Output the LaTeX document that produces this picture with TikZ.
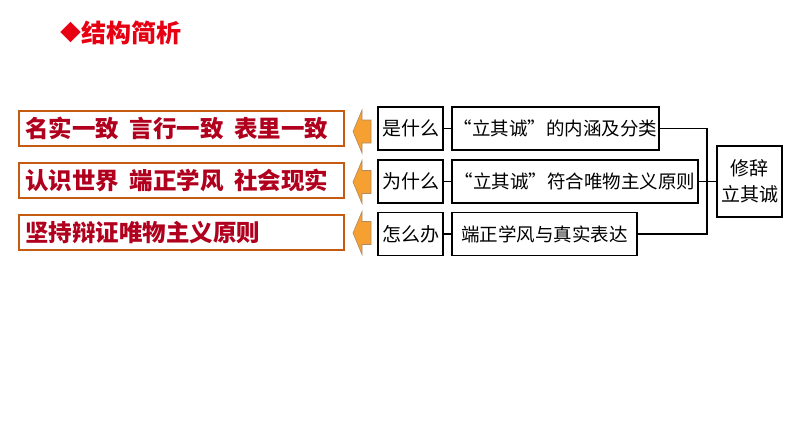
\documentclass[tikz,border=0pt]{standalone}
\usepackage{fontspec}
\setmainfont{Noto Sans CJK SC}
\newfontfamily\cjk{Noto Sans CJK SC}
\definecolor{titlered}{HTML}{E60012}
\definecolor{darkred}{HTML}{B0001E}
\definecolor{boxbrown}{HTML}{C55A11}
\definecolor{arrowfill}{HTML}{F5A031}
\definecolor{arrowline}{HTML}{B08A60}
\tikzset{
  leftbox/.style={draw=boxbrown, line width=2pt, fill=white, inner xsep=6pt, inner ysep=0pt,
    text width=313pt, minimum height=35pt, align=left, text=darkred,
    font=\cjk\bfseries\fontsize{23.5}{26}\selectfont},
  qbox/.style={draw=black, line width=1.6pt, fill=white, inner sep=0pt,
    minimum width=65pt, minimum height=43pt, font=\cjk\fontsize{19}{26}\selectfont},
  longbox/.style={draw=black, line width=1.6pt, fill=white, inner sep=0pt,
    minimum height=43pt, font=\cjk\fontsize{18.5}{22}\selectfont},
  link/.style={draw=black, line width=1.6pt},
  blockarrow/.style={fill=arrowfill, draw=arrowline, line width=0.6pt, line join=miter}
}
\newcommand{\leftarrowat}[1]{%
  \draw[blockarrow] (#1) ++(-9,0) -- ++(9,-21.5) -- ++(0,10) -- ++(9,0) -- ++(0,23) -- ++(-9,0) -- ++(0,10) -- cycle;}
\begin{document}
\begin{tikzpicture}[x=1pt,y=-1pt]
\useasboundingbox (0,0) rectangle (794,447);
% title
\node[text=titlered, font=\cjk\fontsize{21}{22}\selectfont, inner sep=0pt] (dia) at (71,33) {◆};
\node[text=titlered, font=\cjk\bfseries\fontsize{25}{26}\selectfont, anchor=west, inner sep=0pt] (title) at (81,33) {结构简析};
% left boxes
\node[leftbox] (l1) at (181.5,128.5) {名实一致\hspace{0.45em}言行一致\hspace{0.45em}表里一致};
\node[leftbox] (l2) at (181.5,180.5) {认识世界\hspace{0.45em}端正学风\hspace{0.45em}社会现实};
\node[leftbox] (l3) at (181.5,232.5) {坚持辩证唯物主义原则};
% arrows
\coordinate (ar1) at (362,131.5);
\coordinate (ar2) at (362,182);
\coordinate (ar3) at (362,233);
\leftarrowat{ar1}
\leftarrowat{ar2}
\leftarrowat{ar3}
% question boxes
\node[qbox] (q1) at (410.5,128.5) {是什么};
\node[qbox] (q2) at (410.5,181.5) {为什么};
\node[qbox] (q3) at (410.5,234) {怎么办};
% content boxes
\node[longbox, minimum width=207pt] (c1) at (555.5,128.5) {“立其诚”的内涵及分类};
\node[longbox, minimum width=246pt] (c2) at (575,181.5) {“立其诚”符合唯物主义原则};
\node[longbox, minimum width=185pt] (c3) at (544.5,234) {端正学风与真实表达};
% root
\node[qbox, minimum height=71pt, align=center] (root) at (749.5,181.5) {修辞\\立其诚};
\coordinate (jx) at (707,181.5);
% connectors
\draw[link] (q1.east) -- (c1.west);
\draw[link] (q2.east) -- (c2.west);
\draw[link] (q3.east) -- (c3.west);
\draw[link] (c1.east) -- (c1.east -| jx) -- (c3.east -| jx) -- (c3.east);
\draw[link] (c2.east) -- (root.west);
\end{tikzpicture}
\end{document}
